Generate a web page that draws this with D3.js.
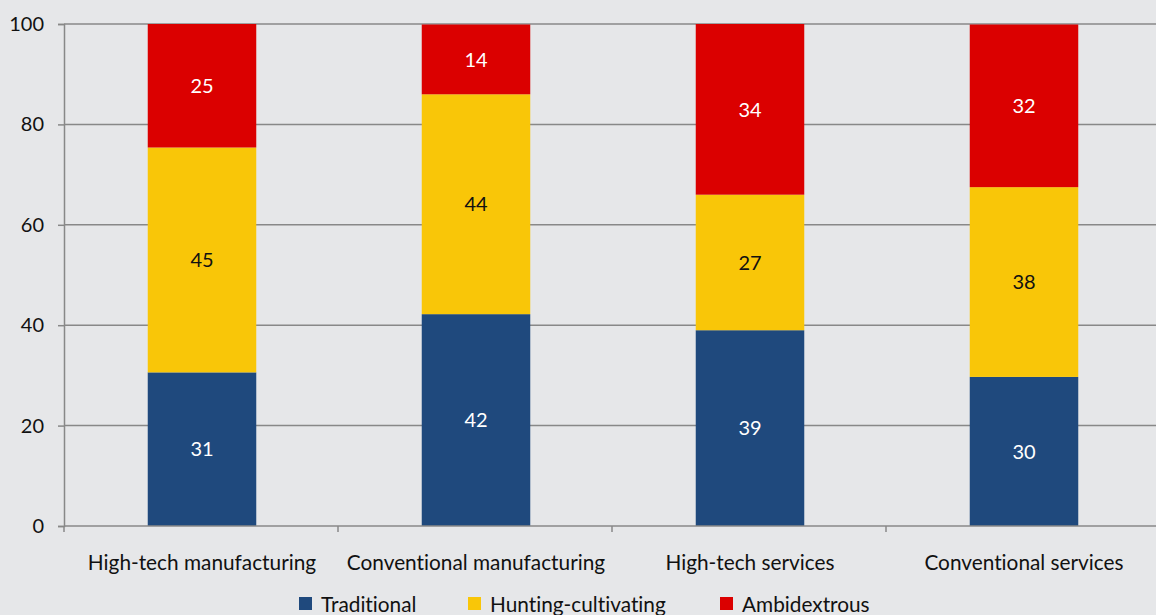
<!DOCTYPE html>
<html><head><meta charset="utf-8">
<script src="https://cdn.jsdelivr.net/npm/d3@7/dist/d3.min.js"></script>
<style>
html,body{margin:0;padding:0;background:#e6e7e9;}
svg{display:block;font-family:Lato,"Open Sans",sans-serif;font-variant-ligatures:none;font-feature-settings:"liga" 0;}
</style></head>
<body>
<svg id="chart" width="1156" height="615"></svg>
<script>
const categories = ["High-tech manufacturing","Conventional manufacturing","High-tech services","Conventional services"];
const seriesNames = ["Traditional","Hunting-cultivating","Ambidextrous"];
const traditional = [30.6, 42.2, 39.0, 29.7];
const huntingCultivating = [44.8, 43.8, 27.0, 37.8];
const ambidextrous = [24.6, 13.9, 34.0, 32.4];
const yTicks = [0, 20, 40, 60, 80, 100];

const colors = ["#1f497d", "#f9c608", "#db0000"];
const labelColors = ["#ffffff", "#111111", "#ffffff"];

const svg = d3.select("#chart");
const x = d3.scaleBand().domain(categories).range([65, 1161]).paddingInner(0.604).paddingOuter(0.302);
const y = d3.scaleLinear().domain([0, 100]).range([526, 24]);

const table = categories.map((c, i) => ({cat: c, Traditional: traditional[i], "Hunting-cultivating": huntingCultivating[i], Ambidextrous: ambidextrous[i]}));
const stacked = d3.stack().keys(seriesNames)(table);

// gridlines
svg.append("g").selectAll("line").data(yTicks.filter(d => d > 0)).join("line")
  .attr("x1", 64).attr("x2", 1156)
  .attr("y1", d => y(d)).attr("y2", d => y(d))
  .attr("stroke", "#888888").attr("stroke-width", 1.5);

// y axis
const yAxis = svg.append("g").attr("transform", "translate(64,0)")
  .call(d3.axisLeft(y).tickValues(yTicks).tickSize(6).tickPadding(14));
yAxis.select(".domain").attr("stroke", "#888888").attr("stroke-width", 1.5);
yAxis.selectAll(".tick line").attr("stroke", "#888888").attr("stroke-width", 1.5);
yAxis.selectAll(".tick text").attr("font-size", 20).attr("fill", "#111").attr("font-family", "Lato");

// bars
const groups = svg.append("g").selectAll("g").data(stacked).join("g")
  .attr("fill", (d, i) => colors[i]);
groups.selectAll("rect").data(d => d).join("rect")
  .attr("x", d => x(d.data.cat))
  .attr("width", x.bandwidth())
  .attr("y", d => y(d[1]))
  .attr("height", d => y(d[0]) - y(d[1]));

// labels
svg.append("g").selectAll("g").data(stacked).join("g")
  .attr("fill", (d, i) => labelColors[i])
  .selectAll("text").data(d => d).join("text")
  .attr("x", d => x(d.data.cat) + x.bandwidth() / 2)
  .attr("y", d => (y(d[0]) + y(d[1])) / 2)
  .attr("dy", "0.36em")
  .attr("text-anchor", "middle")
  .attr("font-size", 20)
  .text(d => d3.format(".0f")(d[1] - d[0]));

// x axis
svg.append("line").attr("x1", 64).attr("x2", 1156).attr("y1", 526).attr("y2", 526)
  .attr("stroke", "#888888").attr("stroke-width", 1.5);
svg.append("g").selectAll("line").data(d3.range(categories.length + 1)).join("line")
  .attr("x1", i => 64 + i * (1160 - 64) / categories.length)
  .attr("x2", i => 64 + i * (1160 - 64) / categories.length)
  .attr("y1", 526).attr("y2", 532)
  .attr("stroke", "#888888").attr("stroke-width", 1.5);
svg.append("g").selectAll("text").data(categories).join("text")
  .attr("x", d => x(d) + x.bandwidth() / 2)
  .attr("y", 570)
  .attr("text-anchor", "middle")
  .attr("font-size", 20.8).attr("fill", "#111")
  .text(d => d);

// legend
const legendX = [299, 468, 720];
const lg = svg.append("g").selectAll("g").data(seriesNames).join("g")
  .attr("transform", (d, i) => `translate(${legendX[i]},597)`);
lg.append("rect").attr("width", 13).attr("height", 13).attr("fill", (d, i) => colors[i]);
lg.append("text").attr("x", 22).attr("y", 14.5).attr("font-size", 20.8).attr("fill", "#111").text(d => d);
</script>
</body></html>
